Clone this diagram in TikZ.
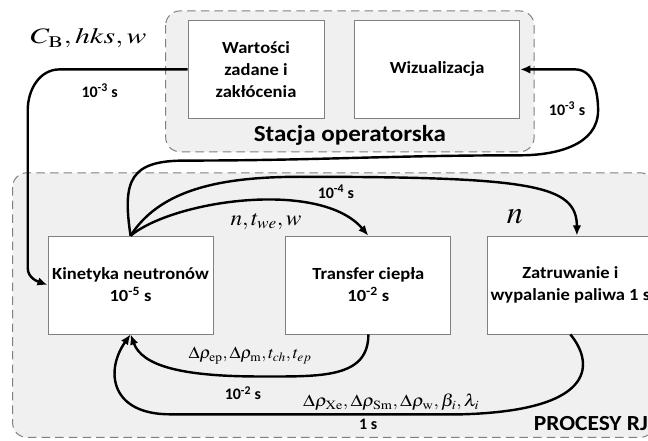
\documentclass[tikz,border=0pt]{standalone}
\usepackage{mathptmx}
\usepackage[no-math]{fontspec}
\usepackage{graphicx}
\setmainfont{Carlito}
\newfontfamily\widefont{Carlito}[FakeStretch=1.09]
\usepackage{tikz}
\usetikzlibrary{arrows.meta,calc,positioning,backgrounds}

\begin{document}
\begin{tikzpicture}[
	>={Latex[length=3.6mm,width=3mm]},
	node distance=25.3mm,
	block/.style={draw=black!50, line width=0.3mm, fill=white, rectangle, minimum height=34.4mm, minimum width=58mm, align=center, inner sep=1pt, font=\widefont\fontsize{17}{22}\selectfont\bfseries},
	group/.style={draw=black!50, dash pattern=on 3mm off 1.8mm, fill=black!6, rounded corners=5mm, line width=0.35mm},
	grouplabel/.style={font=\widefont\fontsize{23}{25}\selectfont\bfseries},
	tlabel/.style={font=\fontsize{16}{18}\selectfont\bfseries, inner sep=0pt},
	mlabel/.style={font=\fontsize{22}{24}\selectfont, inner sep=0pt},
	dlabel/.style={font=\fontsize{17}{19}\selectfont, inner sep=0pt},
	signal/.style={->, line width=0.85mm}
	]
	\useasboundingbox (-45.9mm,100.2mm) rectangle ++(227.8mm,-155mm);
	
	\node[block] (kin) at (0,0) {Kinetyka neutronów\\10\textsuperscript{-5} s};
	\node[block, right=of kin] (tra) {Transfer ciepła\\10\textsuperscript{-2} s};
	\node[block, right=12.7mm of tra] (zat) {Zatruwanie i\\wypalanie paliwa 1 s};
	
	\node[block, minimum width=47.8mm, above=41.1mm of kin, xshift=44.1mm] (wart) {Wartości\\zadane i\\zakłócenia};
	\node[block, right=10.5mm of wart] (wiz) {Wizualizacja};
	
	\coordinate (opnw) at ($(wart.north west)+(-7.7mm,3.2mm)$);
	\coordinate (opse) at ($(wiz.south east)+(4.9mm,-11.6mm)$);
	\coordinate (prnw) at ($(kin.north west)+(-12.3mm,22.1mm)$);
	\coordinate (prse) at ($(zat.south east)+(0.4mm,-36.2mm)$);
	
	\begin{scope}[on background layer]
		\draw[group] (opnw) rectangle (opse);
		\draw[group] (prnw) rectangle (prse);
	\end{scope}
	
	\node[grouplabel] (optitle) at ($(opnw |- opse)!0.5!(opse)+(0,5.6mm)$) {Stacja operatorska};
	\node[grouplabel, font=\widefont\fontsize{21.5}{24}\selectfont\bfseries, anchor=west] (prtitle) at ($(zat.south west)+(15.1mm,-31.3mm)$) {PROCESY RJ};
	
	% set values into the kinetics
	\draw[signal] (wart.west) -- ++(-45mm,0)
	to[out=180,in=90] ($(kin.west)+(-7mm,61.5mm)$)
	-- ($(kin.west)+(-7mm,6mm)$)
	to[out=-90,in=160] (kin.west);
	
	% kinetics to visualization
	\coordinate (vleft)  at ($(kin.north)+(19.2mm,26.4mm)$);
	\coordinate (vright) at ($(wiz.east)+(0,-30.2mm)$);
	\draw[signal] (kin.north) .. controls ($(kin.north)+(-3mm,19.7mm)$) and ($(kin.north)+(0,26.4mm)$) .. (vleft)
	to[out=0,in=180] (vright)
	to[out=0,in=-90] ($(wiz.east)+(27.4mm,-14.4mm)$)
	to[out=90,in=0] ($(wiz.east)+(19.3mm,0)$)
	-- (wiz.east);
	
	% kinetics to burnup
	\draw[signal] (kin.north) .. controls ($(kin.north)+(10.4mm,16.2mm)$) and ($(kin.north)+(31.5mm,20.7mm)$) .. ($(kin.north)+(59.6mm,20.7mm)$)
	.. controls ($(zat.north)+(-13.5mm,20.7mm)$) and ($(zat.north)+(2.3mm,17.9mm)$) .. ($(zat.north)+(2.3mm,0)$);
	
	% kinetics to heat transfer
	\draw[signal] (kin.north) .. controls ($(kin.north)+(15.6mm,12.7mm)$) and ($(tra.north)+(-16.7mm,19.7mm)$) .. (tra.north);
	
	% feedback from heat transfer
	\draw[signal] (tra.south) .. controls ($(tra.south)+(0,-15.5mm)$) and ($(tra.south)+(-16.7mm,-14.8mm)$) .. ($(kin.south)+(45.5mm,-14.8mm)$)
	.. controls ($(kin.south)+(17.4mm,-14.8mm)$) and ($(kin.south)+(4mm,-10.9mm)$) .. (kin.south);
	
	% feedback from burnup
	\draw[signal] (zat.south) .. controls ($(zat.south)+(7.6mm,-9.1mm)$) and ($(zat.south)+(11.1mm,-26.7mm)$) .. ($(zat.south)+(-38.1mm,-28.1mm)$)
	-- ($(kin.south)+(13.9mm,-28.1mm)$)
	.. controls ($(kin.south)+(-7.2mm,-28.1mm)$) and ($(kin.south)+(-9mm,-12.7mm)$) .. (kin.south);
	
	\node[mlabel] (cin) at ($(wart.west)+(-34.8mm,10.9mm)$) {\scalebox{1.35}[1]{$C_{\mathrm{B}}, hks, w$}};
	\node[tlabel] (tin) at ($(wart.west)+(-30.9mm,-7.4mm)$) {10\textsuperscript{-3} s};
	\node[tlabel] (tvis) at ($(wiz.east)+(16.5mm,-13.7mm)$) {10\textsuperscript{-3} s};
	\node[tlabel] (tzat) at ($(kin.north)+(72.2mm,15.5mm)$) {10\textsuperscript{-4} s};
	\node[mlabel] (ntw) at ($(tra.north)+(-36mm,4.9mm)$) {\scalebox{1.06}[1]{$n, t_{we}, w$}};
	\node[mlabel, font=\fontsize{32}{34}\selectfont] (nzat) at ($(zat.north)+(-19.5mm,6.7mm)$) {$n$};
	\node[dlabel] (rhotra) at ($(kin.south)+(42mm,-7.4mm)$) {\scalebox{1.06}[1]{$\Delta\rho_{\mathrm{ep}}, \Delta\rho_{\mathrm{m}}, t_{ch}, t_{ep}$}};
	\node[tlabel] (ttra) at ($(kin.south)+(39.5mm,-20.7mm)$) {10\textsuperscript{-2} s};
	\node[dlabel] (rhozat) at ($(kin.south)+(91.6mm,-23.9mm)$) {\scalebox{1.14}[1]{$\Delta\rho_{\mathrm{Xe}}, \Delta\rho_{\mathrm{Sm}}, \Delta\rho_{\mathrm{w}}, \beta_i, \lambda_i$}};
	\node[tlabel] (tout) at ($(kin.south)+(83.5mm,-31.6mm)$) {1 s};
\end{tikzpicture}
\end{document}
